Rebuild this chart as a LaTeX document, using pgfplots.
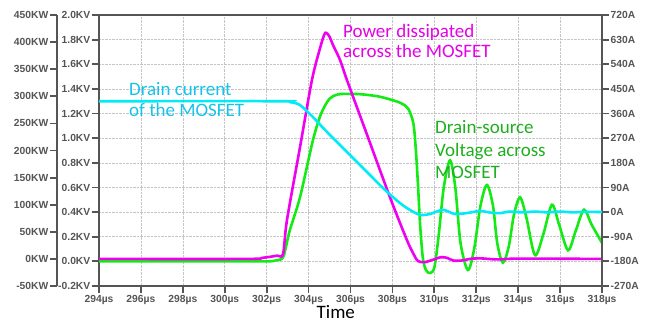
\documentclass[border=0pt]{standalone}
\usepackage{fontspec}
\setmainfont{Liberation Sans}
\newfontfamily\calib{Carlito}
\usepackage{pgfplots}
\pgfplotsset{compat=1.18}

\definecolor{axisgray}{RGB}{85,85,85}
\definecolor{vgreen}{RGB}{20,235,20}
\definecolor{pmag}{RGB}{240,0,240}
\definecolor{icyan}{RGB}{0,235,245}
\definecolor{tgreen}{RGB}{30,175,30}
\definecolor{tmag}{RGB}{230,0,230}
\definecolor{tcyan}{RGB}{20,195,235}

\pgfplotsset{
  panel/.style={
    scale only axis, height=271pt, anchor=south west,
    axis line style={line width=2.5pt, axisgray},
    tick style={line width=1.8pt, axisgray},
    major tick length=7pt, tick align=outside,
    ticklabel style={font=\bfseries\fontsize{10.3}{12}\selectfont, text=axisgray, inner sep=1.5pt},
  },
  trace/.style={line width=2.6pt, smooth, tension=0.5, no markers},
}
\tikzset{note/.style={anchor=base west, inner sep=0pt, font=\calib\fontsize{19}{22}\selectfont}}

% Drain-source voltage (KV)
\pgfplotstableread{
t v
294 0
300 0
302.0 0.0
302.5 0.01
302.8 0.04
303.1 0.25
303.59 0.52
304.21 0.985
304.6 1.2
305.0 1.32
305.4 1.355
306.0 1.36
306.6 1.355
307.3 1.34
307.88 1.315
308.4 1.285
308.75 1.24
309.0 1.12
309.12 0.9
309.22 0.62
309.32 0.3
309.45 0.03
309.6 -0.07
309.79 -0.095
310.0 -0.05
310.2 0.2
310.45 0.6
310.75 0.82
311.0 0.6
311.25 0.15
311.6 -0.07
311.9 0.1
312.2 0.45
312.51 0.62
312.8 0.45
313.0 0.15
313.27 -0.01
313.55 0.12
313.8 0.38
314.09 0.52
314.4 0.35
314.8 0.05
315.2 0.22
315.61 0.46
315.95 0.3
316.38 0.09
316.75 0.25
317.14 0.42
317.5 0.3
318 0.15
}\voltage

% Power dissipated (KW)
\pgfplotstableread{
t p
294 0
301.0 0
301.8 2
302.5 6
302.78 9
302.97 72
303.59 206
304.16 330
304.54 388
304.75 414
304.85 417
305.0 410
305.16 395
305.5 367
305.83 330
306.79 229
307.88 114
308.69 35
308.98 11
309.22 -4
309.55 -6
309.9 -2
310.3 3
310.6 2
310.9 -3
311.3 -3
311.7 0
312.2 1
313 -1
314 0.5
318 0
}\power

% Drain current (A)
\pgfplotstableread{
t i
294 405
302.6 405
303.1 402
303.59 391
304.21 347
304.6 315
305.02 282
305.83 220
306.6 161
307.55 88
308.36 33
308.84 8
309.31 -10
309.79 -7
310.41 8
310.98 -7
311.6 -3
312.18 4
312.7 -2
313.13 -4
313.6 2
314.2 -1
314.8 2
315.4 -1
316.0 2
316.6 -1
317.2 1
318 0
}\current

\begin{document}
\begin{tikzpicture}
\useasboundingbox (0,0) rectangle (653pt,322pt);

% voltage axis, time axis and grid
\begin{axis}[panel, at={(99pt,36pt)}, width=503pt,
  xmin=294, xmax=318, ymin=-0.2, ymax=2.0,
  tick pos=left,
  xtick={294,296,298,300,302,304,306,308,310,312,314,316,318},
  xticklabels={294µs,296µs,298µs,300µs,302µs,304µs,306µs,308µs,310µs,312µs,314µs,316µs,318µs},
  xticklabel style={yshift=-0.5pt},
  ytick={-0.2,0,0.2,0.4,0.6,0.8,1.0,1.2,1.4,1.6,1.8,2.0},
  yticklabels={-0.2KV,0.0KV,0.2KV,0.4KV,0.6KV,0.8KV,1.0KV,1.2KV,1.4KV,1.6KV,1.8KV,2.0KV},
  grid=major, major grid style={densely dotted, gray!45, line width=0.6pt},
  xlabel={Time},
  xlabel style={font=\calib\fontsize{19}{20}\selectfont, inner sep=0pt, at={(axis cs:305.3,-0.2)}, anchor=base, yshift=-32pt},
]
\addplot[trace, vgreen] table[x=t, y=v] {\voltage};
\end{axis}

% power axis
\begin{axis}[panel, at={(57pt,36pt)}, width=545pt,
  xmin=291.996, xmax=318, ymin=-50, ymax=450,
  axis y line*=left, axis x line=none,
  ytick={-50,0,50,100,150,200,250,300,350,400,450},
  yticklabels={-50KW,0KW,50KW,100KW,150KW,200KW,250KW,300KW,350KW,400KW,450KW},
]
\addplot[trace, pmag] table[x=t, y=p] {\power};
\end{axis}

% current axis
\begin{axis}[panel, at={(99pt,36pt)}, width=503pt,
  xmin=294, xmax=318, ymin=-270, ymax=720,
  axis y line*=right, axis x line=none,
  ytick={-270,-180,-90,0,90,180,270,360,450,540,630,720},
  yticklabels={-270A,-180A,-90A,0A,90A,180A,270A,360A,450A,540A,630A,720A},
]
\addplot[trace, icyan] table[x=t, y=i] {\current};
\end{axis}

% annotations, placed in voltage coordinates
\begin{axis}[scale only axis, at={(99pt,36pt)}, anchor=south west, width=503pt, height=271pt,
  xmin=294, xmax=318, ymin=-0.2, ymax=2.0, hide axis, clip=false]
\node[note, text=tmag] at (axis cs:305.64,1.821) {Power dissipated};
\node[note, text=tmag] at (axis cs:305.64,1.651) {across the MOSFET};
\node[note, text=tcyan] at (axis cs:295.43,1.350) {Drain current};
\node[note, text=tcyan] at (axis cs:295.43,1.172) {of the MOSFET};
\node[note, text=tgreen] at (axis cs:310.03,1.042) {Drain-source};
\node[note, text=tgreen] at (axis cs:310.03,0.855) {Voltage across};
\node[note, text=tgreen] at (axis cs:310.03,0.669) {MOSFET};
\end{axis}
\end{tikzpicture}
\end{document}
